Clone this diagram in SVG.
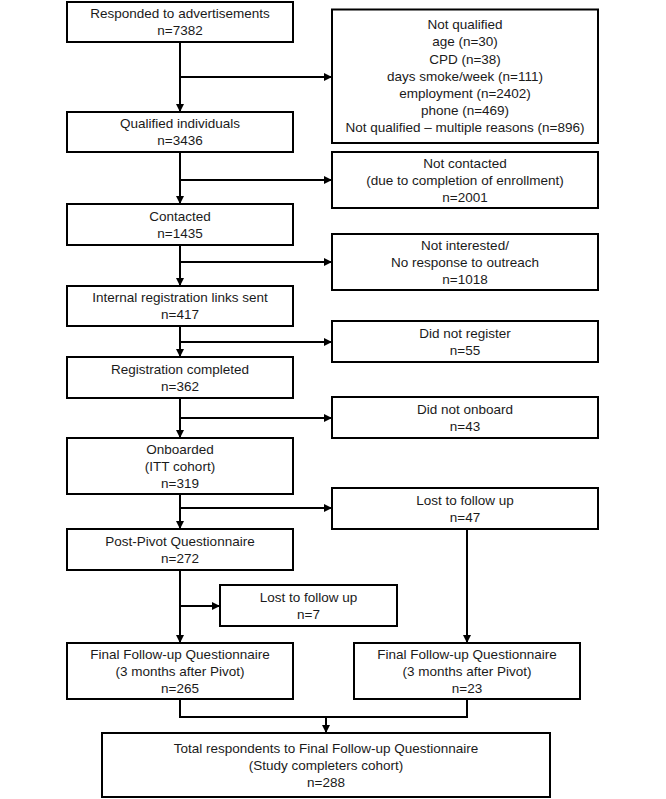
<svg xmlns="http://www.w3.org/2000/svg" width="666" height="799" viewBox="0 0 666 799">
<style>
.box{fill:#fff;stroke:#000;stroke-width:2}
text{font-family:"Liberation Sans",Arial,sans-serif;font-size:13.5px;fill:#1a1a1a;text-anchor:middle}
.c{fill:none;stroke:#000;stroke-width:2}
</style>
<defs>
<marker id="ah" viewBox="0 0 10 10" refX="10" refY="5" markerWidth="8" markerHeight="8" markerUnits="userSpaceOnUse" orient="auto">
<path d="M0,0 L10,5 L0,10 z" fill="#000"/>
</marker>
</defs>
<rect width="666" height="799" fill="#fff"/>
<g id="connectors">
<path class="c" d="M180,42 V112" marker-end="url(#ah)"/>
<path class="c" d="M180,77 H332" marker-end="url(#ah)"/>
<path class="c" d="M180,152 V204" marker-end="url(#ah)"/>
<path class="c" d="M180,180 H332" marker-end="url(#ah)"/>
<path class="c" d="M180,245 V286" marker-end="url(#ah)"/>
<path class="c" d="M180,262 H332" marker-end="url(#ah)"/>
<path class="c" d="M180,326 V357" marker-end="url(#ah)"/>
<path class="c" d="M180,342 H332" marker-end="url(#ah)"/>
<path class="c" d="M180,398 V438" marker-end="url(#ah)"/>
<path class="c" d="M180,418 H332" marker-end="url(#ah)"/>
<path class="c" d="M180,494 V529" marker-end="url(#ah)"/>
<path class="c" d="M180,508 H332" marker-end="url(#ah)"/>
<path class="c" d="M180,570 V643" marker-end="url(#ah)"/>
<path class="c" d="M180,606 H220" marker-end="url(#ah)"/>
<path class="c" d="M467,529 V643" marker-end="url(#ah)"/>
<path class="c" d="M180,699 V717 H467 V699"/>
<path class="c" d="M326,717 V733" marker-end="url(#ah)"/>
</g>
<g id="n1"><rect class="box" x="67" y="2" width="226" height="40"/>
<text x="180" y="18">Responded to advertisements</text><text x="180" y="35">n=7382</text></g>
<g id="n2"><rect class="box" x="67" y="112" width="226" height="40"/>
<text x="180" y="128">Qualified individuals</text><text x="180" y="145">n=3436</text></g>
<g id="n3"><rect class="box" x="67" y="204" width="226" height="41"/>
<text x="180" y="221">Contacted</text><text x="180" y="238">n=1435</text></g>
<g id="n4"><rect class="box" x="67" y="286" width="226" height="40"/>
<text x="180" y="302">Internal registration links sent</text><text x="180" y="319">n=417</text></g>
<g id="n5"><rect class="box" x="67" y="357" width="226" height="41"/>
<text x="180" y="373.5">Registration completed</text><text x="180" y="390.5">n=362</text></g>
<g id="n6"><rect class="box" x="67" y="438" width="226" height="56"/>
<text x="180" y="453.5">Onboarded</text><text x="180" y="470.5">(ITT cohort)</text><text x="180" y="487.5">n=319</text></g>
<g id="n7"><rect class="box" x="67" y="529" width="226" height="41"/>
<text x="180" y="545.5">Post-Pivot Questionnaire</text><text x="180" y="562.5">n=272</text></g>
<g id="n8"><rect class="box" x="67" y="643" width="226" height="56"/>
<text x="180" y="658.5">Final Follow-up Questionnaire</text><text x="180" y="675.5">(3 months after Pivot)</text><text x="180" y="692.5">n=265</text></g>
<g id="nA"><rect class="box" x="332" y="9.5" width="266" height="133.5"/>
<text x="465" y="29.2">Not qualified</text>
<text x="465" y="46.4">age (n=30)</text>
<text x="465" y="63.6">CPD (n=38)</text>
<text x="465" y="80.8">days smoke/week (n=111)</text>
<text x="465" y="98">employment (n=2402)</text>
<text x="465" y="115.2">phone (n=469)</text>
<text x="465" y="132.4">Not qualified – multiple reasons (n=896)</text></g>
<g id="nB"><rect class="box" x="332" y="152" width="266" height="56"/>
<text x="465" y="167.5">Not contacted</text><text x="465" y="184.5">(due to completion of enrollment)</text><text x="465" y="201.5">n=2001</text></g>
<g id="nC"><rect class="box" x="332" y="234" width="266" height="56"/>
<text x="465" y="249.5">Not interested/</text><text x="465" y="266.5">No response to outreach</text><text x="465" y="283.5">n=1018</text></g>
<g id="nD"><rect class="box" x="332" y="321" width="266" height="41"/>
<text x="465" y="337.5">Did not register</text><text x="465" y="354.5">n=55</text></g>
<g id="nE"><rect class="box" x="332" y="397" width="266" height="41"/>
<text x="465" y="413.5">Did not onboard</text><text x="465" y="430.5">n=43</text></g>
<g id="nF"><rect class="box" x="332" y="488" width="266" height="41"/>
<text x="465" y="504.5">Lost to follow up</text><text x="465" y="521.5">n=47</text></g>
<g id="nG"><rect class="box" x="220" y="585" width="177" height="41"/>
<text x="308.5" y="601.5">Lost to follow up</text><text x="308.5" y="618.5">n=7</text></g>
<g id="nH"><rect class="box" x="354" y="643" width="226" height="56"/>
<text x="467" y="658.5">Final Follow-up Questionnaire</text><text x="467" y="675.5">(3 months after Pivot)</text><text x="467" y="692.5">n=23</text></g>
<g id="nI"><rect class="box" x="102" y="733" width="448" height="64"/>
<text x="326" y="752.5">Total respondents to Final Follow-up Questionnaire</text><text x="326" y="769.5">(Study completers cohort)</text><text x="326" y="786.5">n=288</text></g>
</svg>
